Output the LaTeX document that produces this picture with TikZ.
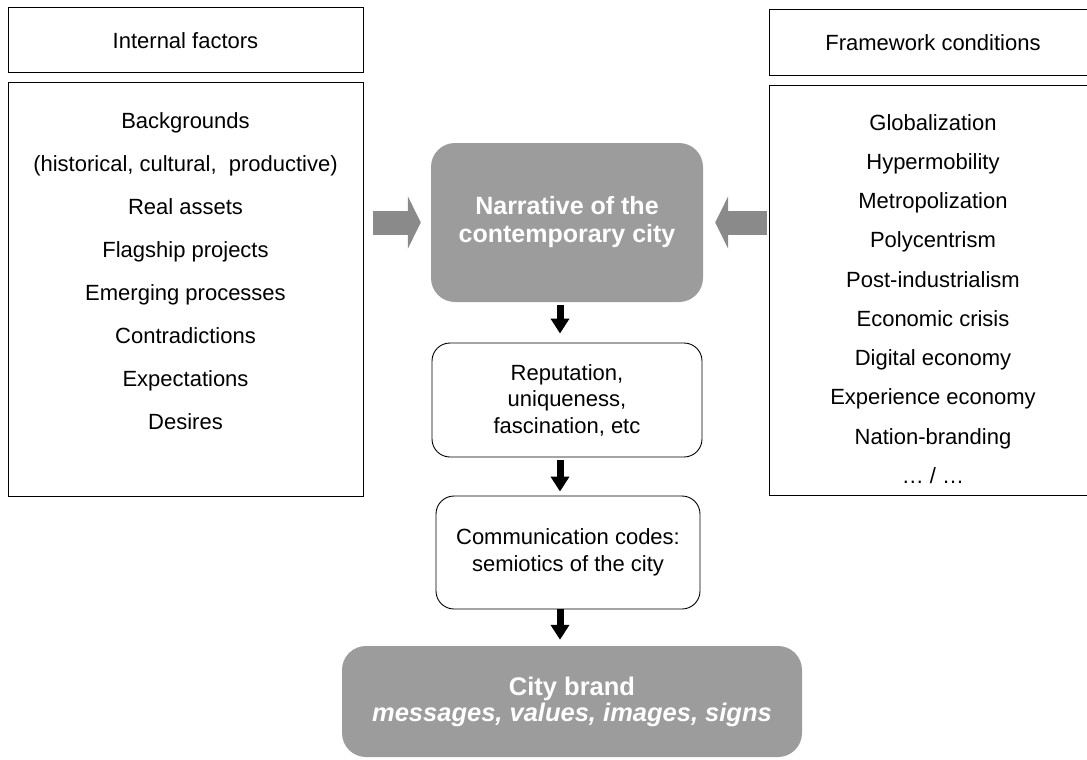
\documentclass[tikz,border=0pt]{standalone}
\usepackage{fontspec}
\setmainfont{Liberation Sans}
\usetikzlibrary{arrows.meta,positioning}
\definecolor{brandgray}{RGB}{156,156,156}
\definecolor{arrowgray}{RGB}{138,138,138}

\begin{document}
\begin{tikzpicture}[x=1pt,y=-1pt,
		plainbox/.style={draw,line width=1pt,inner sep=0pt,font=\fontsize{22}{26}\selectfont},
		roundbox/.style={draw,line width=0.9pt,rounded corners=18pt,fill=white,align=center,font=\fontsize{22}{26.5}\selectfont},
		graybox/.style={fill=brandgray,rounded corners=24pt,text=white,align=center},
		listtext/.style={align=center,inner sep=0pt,anchor=north},
		blockarrow/.style={color=arrowgray,line width=24pt,-{Triangle[width=52pt,length=13pt]}},
		downarrow/.style={line width=7pt,-{Triangle[width=18pt,length=15pt]}}]
		\useasboundingbox[fill=white] (0,0) rectangle (1087,760);
		% left column
		\node[plainbox,minimum width=355pt,minimum height=65pt] (inthead) at (185.5,40.5) {Internal factors};
		\node[plainbox,minimum width=355pt,minimum height=413pt] (intbox) at (185.5,289.5) {};
		\node[listtext,font=\fontsize{22}{43.1}\selectfont] (intlist) at (185.5,112) {Backgrounds\\(historical, cultural,\ \ productive)\\Real assets\\Flagship projects\\Emerging processes\\Contradictions\\Expectations\\Desires};
		% right column
		\node[plainbox,minimum width=328pt,minimum height=66pt] (fwhead) at (933,43) {Framework conditions};
		\node[plainbox,minimum width=328pt,minimum height=410pt] (fwbox) at (933,290) {};
		\node[listtext,font=\fontsize{22}{39.25}\selectfont] (fwlist) at (933,114) {Globalization\\Hypermobility\\Metropolization\\Polycentrism\\Post-industrialism\\Economic crisis\\Digital economy\\Experience economy\\Nation-branding\\… / …};
		% middle column
		\node[graybox,minimum width=272pt,minimum height=159pt,font=\bfseries\fontsize{25}{28}\selectfont] (narr) at (567,222.5) {Narrative of the\\contemporary city};
		\node[roundbox,minimum width=270pt,minimum height=114pt] (rep) at (567,400) {Reputation,\\uniqueness,\\fascination, etc};
		\node[roundbox,minimum width=264pt,minimum height=113pt] (comm) at (568,552.5) {Communication codes:\\semiotics of the city};
		\node[graybox,minimum width=460pt,minimum height=111pt,font=\bfseries\fontsize{25.5}{26}\selectfont] (brand) at (572,701.5) {City brand\\\itshape messages, values, images, signs};
		% arrows
		\draw[blockarrow,shorten <=9pt,shorten >=10pt] (intbox.east |- narr.west) -- (narr.west);
		\draw[blockarrow,shorten <=2pt,shorten >=12pt] (fwbox.west |- narr.east) -- (narr.east);
		\draw[downarrow,shorten <=3pt,shorten >=9pt] ([xshift=-7pt]narr.south) -- ([xshift=-7pt]rep.north);
		\draw[downarrow,shorten <=3pt,shorten >=4pt] ([xshift=-7pt]rep.south) -- ([xshift=-8pt]comm.north);
		\draw[downarrow,shorten >=6pt] ([xshift=-8pt]comm.south) -- ([xshift=-12pt]brand.north);
	\end{tikzpicture}
\end{document}
